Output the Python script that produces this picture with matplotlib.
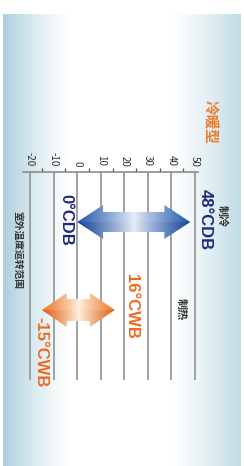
import numpy as np
import matplotlib
matplotlib.use("Agg")
import matplotlib.pyplot as plt
from matplotlib.patches import Polygon
from matplotlib.ticker import MultipleLocator

plt.rcParams['font.family'] = ['Noto Sans CJK SC', 'DejaVu Sans']

# ---- data ----
tick_values = [-20, -10, 0, 10, 20, 30, 40, 50]
cool_range = [0, 48]       # cooling, °C DB
heat_range = [-15, 16]     # heating, °C WB
cool_labels = ["0°CDB", "48°CDB"]
heat_labels = ["-15°CWB", "16°CWB"]
title = "冷暖型"
cool_name = "制冷"
heat_name = "制热"
axis_name = "室外温度运转范围"

W, H = 244, 466
fig = plt.figure(figsize=(W / 100, H / 100), dpi=100)

# background panel gradient
bg = fig.add_axes([0, 0, 1, 1])
bg.set_xlim(0, W)
bg.set_ylim(H, 0)
bg.axis('off')
xs = np.linspace(0, 1, 300)
left_c = np.array([172, 208, 220]) / 255
right_c = np.array([192, 220, 230]) / 255
white = np.array([1, 1, 1.0])
wl = np.clip((0.28 - xs) / 0.28, 0, 1) ** 1.3
wr = np.clip((xs - 0.70) / 0.30, 0, 1) ** 1.3
row = white[None, :] * (1 - wl - wr)[:, None] + left_c[None, :] * wl[:, None] + right_c[None, :] * wr[:, None]
img = np.repeat(row[None, :, :], 10, axis=0)
bg.imshow(img, extent=(3, 241, H, 14), aspect='auto', zorder=0)

# main chart axes
px_per_deg = 165 / 70
ax_left_px, ax_right_px = 23, 198
ax_top_px, ax_bot_px = 172, 380
ax = fig.add_axes([ax_left_px / W, (H - ax_bot_px) / H,
                   (ax_right_px - ax_left_px) / W, (ax_bot_px - ax_top_px) / H])
ax.patch.set_alpha(0)
xmin = -20 - (30 - ax_left_px) / px_per_deg
xmax = xmin + (ax_right_px - ax_left_px) / px_per_deg
ax.set_xlim(xmin, xmax)
ax.set_ylim(ax_bot_px - ax_top_px, 0)
ax.set_yticks([])
for s in ['left', 'right', 'bottom']:
    ax.spines[s].set_visible(False)
ax.spines['top'].set_color('#8c8c8c')
ax.spines['top'].set_linewidth(1.2)
ax.xaxis.tick_top()
ax.set_xticks(tick_values)
ax.set_xticklabels([str(v) for v in tick_values])
ax.xaxis.set_minor_locator(MultipleLocator(5))
ax.tick_params(axis='x', which='major', length=0, pad=4, labelsize=7,
               labelcolor='#2e2e2e', labelrotation=-90)
ax.tick_params(axis='x', which='minor', length=3, width=0.9, color='#555555')
ax.grid(axis='x', which='major', color='#9a9a9a', linewidth=1.3)
ax.set_axisbelow(True)


def draw_arrow(x0, x1, c, dark, light, head_len=11.0, head_h=17, body_h=10):
    pts = [(x0, c), (x0 + head_len, c - head_h), (x0 + head_len, c - body_h),
           (x1 - head_len, c - body_h), (x1 - head_len, c - head_h), (x1, c),
           (x1 - head_len, c + head_h), (x1 - head_len, c + body_h),
           (x0 + head_len, c + body_h), (x0 + head_len, c + head_h)]
    poly = Polygon(pts, closed=True, facecolor='none', edgecolor='none', zorder=3)
    ax.add_patch(poly)
    t = np.linspace(0, 1, 300)
    s = np.abs(2 * t - 1) ** 0.9
    v = np.linspace(-1, 1, 60)
    dark = np.array(dark) / 255
    light = np.array(light) / 255
    cols = light[None, :] + (dark - light)[None, :] * s[:, None]
    grad = np.clip(cols[None, :, :] - 0.08 * (v[:, None, None] > 0) * s[None, :, None], 0, 1)
    im = ax.imshow(grad, extent=(x0, x1, c + head_h, c - head_h), aspect='auto',
                   zorder=3, interpolation='bilinear')
    im.set_clip_path(poly)


draw_arrow(cool_range[0], cool_range[1], 50, (35, 85, 170), (232, 238, 250))
draw_arrow(heat_range[0], heat_range[1], 138, (240, 115, 35), (255, 240, 225),
           head_len=10.6, head_h=17, body_h=11)


def deg(px):
    return xmin + (px - ax_left_px) / px_per_deg


navy = '#1f2a80'
orange = '#ee6a1e'
bold = dict(family=['Liberation Sans', 'DejaVu Sans'], fontweight='bold', fontsize=12)
ax.text(deg(66), 48, cool_labels[0], rotation=-90, ha='center', va='center',
        color=navy, clip_on=False, **bold)
ax.text(deg(205), 48, cool_labels[1], rotation=-90, ha='center', va='center',
        color=navy, clip_on=False, **bold)
ax.text(deg(41), 180, heat_labels[0], rotation=-90, ha='center', va='center',
        color=orange, clip_on=False, **bold)
ax.text(deg(132), 134, heat_labels[1], rotation=-90, ha='center', va='center',
        color=orange, clip_on=False, **bold)
ax.text(deg(222), 44, cool_name, rotation=-90, ha='center', va='center',
        color='#333333', fontsize=8, fontweight='bold', clip_on=False)
ax.text(deg(181), 137, heat_name, rotation=-90, ha='center', va='center',
        color='#333333', fontsize=8, fontweight='bold', clip_on=False)
ax.text(deg(18), 78, axis_name, rotation=-90, ha='center', va='center',
        color='#333333', fontsize=7, fontweight='bold', clip_on=False)
ax.text(deg(210), -50, title, rotation=-90, ha='center', va='center',
        color='#f07a28', fontsize=10.5, fontweight='bold', clip_on=False)

fig.savefig('out.png', dpi=100)
